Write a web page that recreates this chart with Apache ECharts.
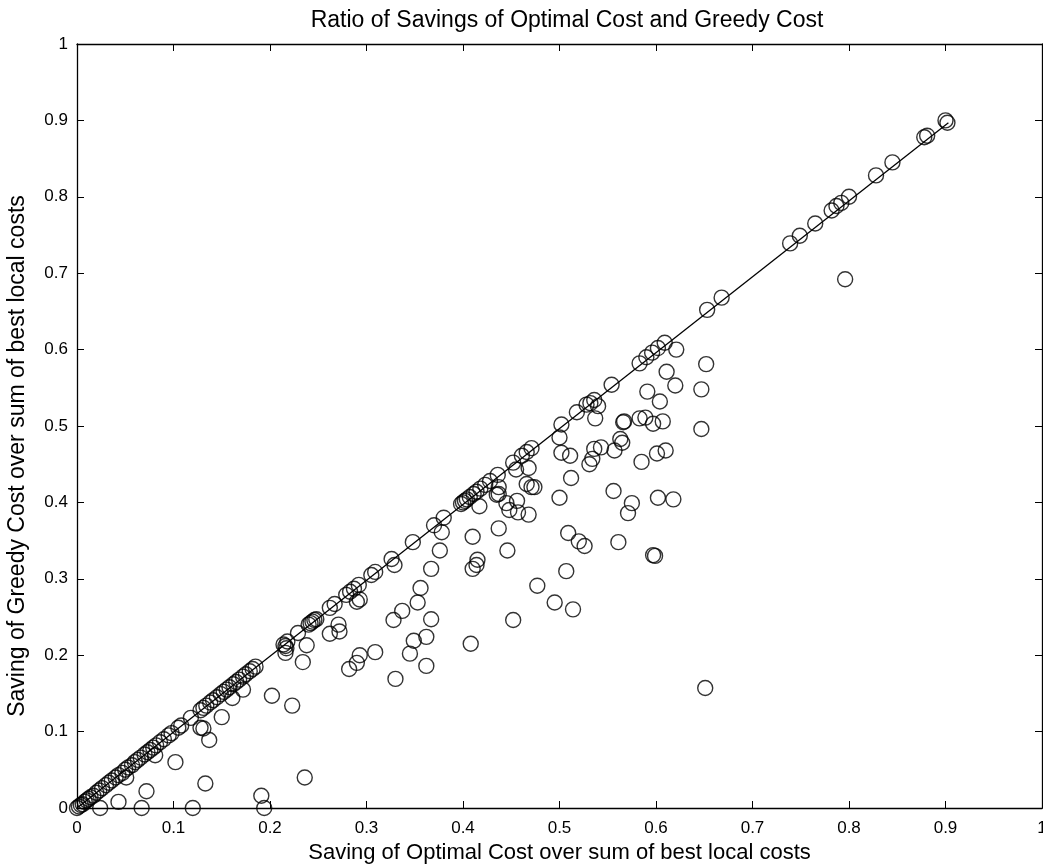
<!DOCTYPE html>
<html>
<head>
	<meta charset="UTF-8">
	<script src="https://cdn.jsdelivr.net/npm/echarts@6/dist/echarts.min.js"></script>
	<title></title>
	<style>body{margin:0;background:#fff;}</style>
</head>
<body>
	<div id="main" style="height:866px;width:1043px;"></div>
	<script type="text/javascript">
        // points lying on the diagonal
        var diagX = [0, 0.002, 0.004, 0.006, 0.008, 0.01, 0.012, 0.014, 0.017, 0.02, 0.023, 0.026, 0.03, 0.033, 0.036, 0.04, 0.043, 0.047, 0.05, 0.053, 0.057, 0.06, 0.063, 0.066, 0.07, 0.073, 0.076, 0.079, 0.082, 0.086, 0.09, 0.095, 0.098, 0.105, 0.108, 0.118, 0.128, 0.131, 0.134, 0.138, 0.141, 0.145, 0.149, 0.152, 0.155, 0.158, 0.162, 0.165, 0.168, 0.172, 0.175, 0.179, 0.182, 0.185, 0.214, 0.216, 0.218, 0.229, 0.24, 0.242, 0.244, 0.246, 0.248, 0.262, 0.267, 0.279, 0.283, 0.287, 0.292, 0.305, 0.309, 0.326, 0.348, 0.37, 0.38, 0.398, 0.4, 0.402, 0.404, 0.407, 0.411, 0.414, 0.418, 0.423, 0.428, 0.436, 0.452, 0.461, 0.466, 0.471, 0.502, 0.518, 0.528, 0.532, 0.536, 0.554, 0.583, 0.59, 0.596, 0.602, 0.609, 0.653, 0.668, 0.739, 0.749, 0.765, 0.782, 0.787, 0.792, 0.8, 0.828, 0.845, 0.878, 0.881, 0.902, 0.9];
        var diagY = [0, 0.002, 0.004, 0.005, 0.008, 0.01, 0.012, 0.014, 0.016, 0.02, 0.023, 0.026, 0.03, 0.033, 0.036, 0.04, 0.043, 0.046, 0.05, 0.053, 0.056, 0.06, 0.063, 0.066, 0.07, 0.073, 0.076, 0.079, 0.082, 0.086, 0.09, 0.095, 0.098, 0.105, 0.108, 0.118, 0.128, 0.131, 0.134, 0.138, 0.141, 0.145, 0.149, 0.152, 0.155, 0.158, 0.162, 0.165, 0.168, 0.172, 0.175, 0.179, 0.182, 0.185, 0.214, 0.212, 0.218, 0.229, 0.24, 0.242, 0.244, 0.246, 0.247, 0.262, 0.267, 0.279, 0.283, 0.287, 0.292, 0.305, 0.309, 0.326, 0.348, 0.37, 0.38, 0.398, 0.4, 0.402, 0.404, 0.407, 0.411, 0.414, 0.418, 0.423, 0.428, 0.436, 0.452, 0.461, 0.466, 0.471, 0.502, 0.518, 0.528, 0.53, 0.534, 0.554, 0.582, 0.59, 0.596, 0.602, 0.609, 0.652, 0.668, 0.739, 0.749, 0.765, 0.782, 0.788, 0.792, 0.8, 0.828, 0.845, 0.878, 0.88, 0.897, 0.9];
        // points below the diagonal
        var offX = [0.024, 0.043, 0.067, 0.072, 0.12, 0.133, 0.102, 0.081, 0.051, 0.137, 0.128, 0.131, 0.15, 0.161, 0.172, 0.191, 0.194, 0.202, 0.223, 0.236, 0.234, 0.238, 0.216, 0.217, 0.262, 0.272, 0.271, 0.282, 0.29, 0.293, 0.309, 0.33, 0.328, 0.29, 0.293, 0.329, 0.337, 0.345, 0.349, 0.362, 0.362, 0.367, 0.353, 0.356, 0.367, 0.376, 0.378, 0.408, 0.41, 0.41, 0.414, 0.415, 0.417, 0.435, 0.437, 0.446, 0.452, 0.477, 0.495, 0.514, 0.507, 0.509, 0.52, 0.526, 0.5, 0.512, 0.561, 0.556, 0.575, 0.571, 0.597, 0.599, 0.602, 0.618, 0.502, 0.5, 0.511, 0.531, 0.534, 0.536, 0.543, 0.557, 0.563, 0.565, 0.567, 0.566, 0.585, 0.601, 0.61, 0.583, 0.589, 0.597, 0.607, 0.591, 0.604, 0.611, 0.62, 0.621, 0.647, 0.647, 0.652, 0.651, 0.796, 0.537, 0.468, 0.466, 0.471, 0.474, 0.456, 0.445, 0.448, 0.457, 0.468, 0.455, 0.437, 0.437, 0.54];
        var offY = [0, 0.008, 0, 0.022, 0, 0.032, 0.06, 0.069, 0.04, 0.089, 0.105, 0.104, 0.119, 0.144, 0.155, 0.016, 0, 0.147, 0.134, 0.04, 0.191, 0.213, 0.203, 0.209, 0.228, 0.231, 0.24, 0.182, 0.19, 0.2, 0.204, 0.169, 0.246, 0.27, 0.273, 0.318, 0.258, 0.202, 0.219, 0.186, 0.224, 0.247, 0.269, 0.288, 0.313, 0.337, 0.361, 0.215, 0.355, 0.313, 0.318, 0.325, 0.395, 0.41, 0.366, 0.337, 0.246, 0.291, 0.269, 0.26, 0.31, 0.36, 0.349, 0.343, 0.406, 0.432, 0.348, 0.415, 0.399, 0.386, 0.331, 0.33, 0.406, 0.404, 0.465, 0.485, 0.461, 0.45, 0.457, 0.47, 0.472, 0.468, 0.483, 0.478, 0.506, 0.505, 0.453, 0.464, 0.468, 0.51, 0.511, 0.503, 0.506, 0.545, 0.532, 0.571, 0.553, 0.6, 0.548, 0.496, 0.581, 0.157, 0.692, 0.51, 0.384, 0.424, 0.42, 0.42, 0.402, 0.399, 0.39, 0.387, 0.445, 0.443, 0.411, 0.42, 0.526];
        // reference line y = x
        var lineX = [0, 0.903];
        var lineY = [0, 0.897];

        var pts = [];
        for (var i = 0; i < diagX.length; i++) pts.push([diagX[i], diagY[i]]);
        for (var j = 0; j < offX.length; j++) pts.push([offX[j], offY[j]]);
        var linePts = [[lineX[0], lineY[0]], [lineX[1], lineY[1]]];

        var font = '"Liberation Sans", Arial, sans-serif';
        var tick = { show: true, inside: true, length: 7, lineStyle: { color: '#000', width: 1 } };
        var line = { show: true, onZero: false, lineStyle: { color: '#000', width: 1.3 } };

        var myChart = echarts.init(document.getElementById('main'));
        var option = {
            animation: false,
            backgroundColor: '#fff',
            title: {
                text: 'Ratio of Savings of Optimal Cost and Greedy Cost',
                left: 562, top: 4, textAlign: 'center',
                textStyle: { fontFamily: font, fontSize: 23, fontWeight: 'normal', color: '#000' }
            },
            grid: { left: 77, right: 1, top: 44, bottom: 58, outerBoundsMode: 'none' },
            xAxis: [{
                type: 'value', min: 0, max: 1, interval: 0.1,
                name: 'Saving of Optimal Cost over sum of best local costs',
                nameLocation: 'middle', nameGap: 34,
                nameTextStyle: { fontFamily: font, fontSize: 22, color: '#000' },
                axisLine: line, axisTick: tick, splitLine: { show: false },
                axisLabel: { fontFamily: font, fontSize: 17, color: '#000', margin: 12 }
            }, {
                type: 'value', position: 'top', min: 0, max: 1, interval: 0.1,
                axisLine: line, axisTick: tick, splitLine: { show: false }, axisLabel: { show: false }
            }],
            yAxis: [{
                type: 'value', min: 0, max: 1, interval: 0.1,
                name: 'Saving of Greedy Cost over sum of best local costs',
                nameLocation: 'middle', nameGap: 48,
                nameTextStyle: { fontFamily: font, fontSize: 23, color: '#000', padding: [0, 60, 0, 0] },
                axisLine: line, axisTick: tick, splitLine: { show: false },
                axisLabel: { fontFamily: font, fontSize: 17, color: '#000', margin: 9 }
            }, {
                type: 'value', position: 'right', min: 0, max: 1, interval: 0.1,
                axisLine: line, axisTick: tick, splitLine: { show: false }, axisLabel: { show: false }
            }],
            series: [{
                type: 'line',
                data: linePts,
                symbol: 'none',
                lineStyle: { color: '#000', width: 1.3 }
            }, {
                type: 'scatter',
                data: pts,
                clip: false,
                symbol: 'circle',
                symbolSize: 15,
                itemStyle: { color: 'rgba(0,0,0,0)', borderColor: '#000', borderWidth: 1.4 }
            }]
        };
        myChart.setOption(option);
	</script>
</body>
</html>
